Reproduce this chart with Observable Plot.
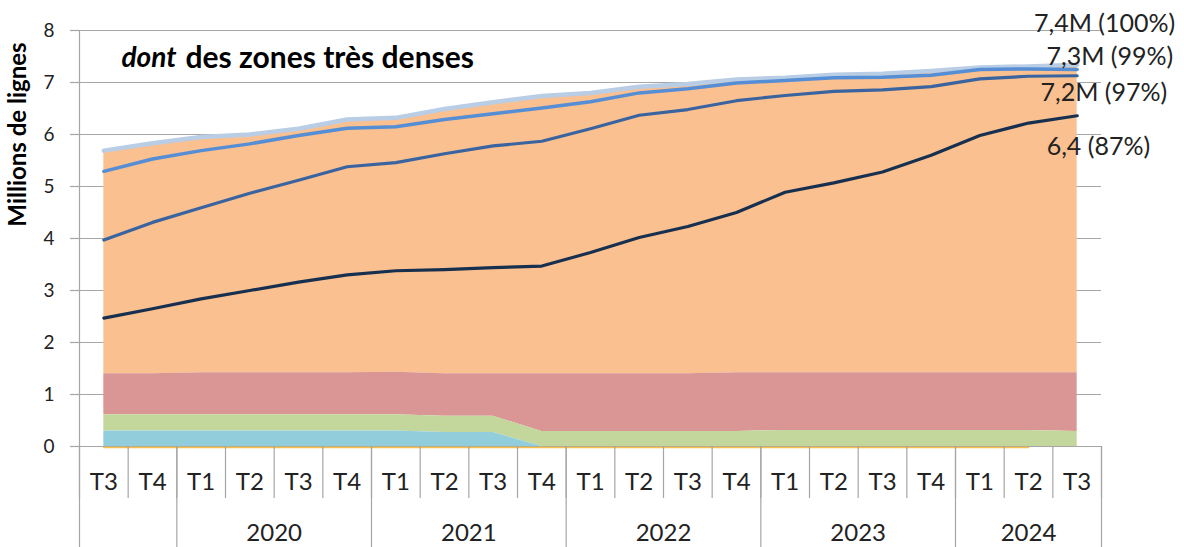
<!DOCTYPE html>
<html><head><meta charset="utf-8">
<script src="https://cdn.jsdelivr.net/npm/d3@7"></script>
<script src="https://cdn.jsdelivr.net/npm/@observablehq/plot@0.6"></script>
<style>html,body{margin:0;padding:0;background:#fff} svg{display:block}</style>
</head><body><div id="chart"></div>
<script>
// Data (millions de lignes)
const quarters = ["T3","T4","T1","T2","T3","T4","T1","T2","T3","T4","T1","T2","T3","T4","T1","T2","T3","T4","T1","T2","T3"];
const years    = [2019,2019,2020,2020,2020,2020,2021,2021,2021,2021,2022,2022,2022,2022,2023,2023,2023,2023,2024,2024,2024];
const yearList   = [2019, 2020, 2021, 2022, 2023, 2024];
const yearLabels = ["", "2020", "2021", "2022", "2023", "2024"];

// tiny series along the axis
const yellow   = [0.01,0.01,0.01,0.01,0.01,0.01,0.01,0.01,0.01,0.01,0.01,0.01,0.01,0.01,0.01,0.01,0.01,0.01,0.01,0.01,null];
// cumulative tops of the stacked areas
const blueTop  = [0.30,0.30,0.30,0.30,0.30,0.30,0.30,0.27,0.27,0.00,0.00,0.00,0.00,0.00,0.00,0.00,0.00,0.00,0.00,0.00,0.00];
const greenTop = [0.61,0.61,0.61,0.61,0.61,0.61,0.61,0.58,0.58,0.29,0.29,0.29,0.29,0.29,0.31,0.31,0.31,0.31,0.31,0.31,0.29];
const redTop   = [1.40,1.40,1.42,1.42,1.42,1.42,1.43,1.40,1.40,1.40,1.40,1.40,1.40,1.42,1.42,1.42,1.42,1.42,1.42,1.42,1.42];
const total    = [5.69,5.83,5.95,6.00,6.11,6.29,6.32,6.49,6.62,6.74,6.80,6.92,6.97,7.06,7.09,7.15,7.17,7.22,7.29,7.31,7.34];
// lines
const line99   = [5.29,5.53,5.69,5.82,5.98,6.12,6.15,6.29,6.40,6.51,6.63,6.80,6.88,6.99,7.04,7.09,7.10,7.14,7.25,7.26,7.25];
const line97   = [3.97,4.31,4.59,4.87,5.12,5.38,5.46,5.63,5.78,5.87,6.11,6.37,6.48,6.65,6.75,6.83,6.86,6.92,7.07,7.12,7.13];
const line87   = [2.47,2.65,2.84,3.00,3.16,3.30,3.38,3.40,3.44,3.47,3.73,4.02,4.23,4.50,4.89,5.07,5.28,5.60,5.98,6.22,6.36];

const endLabels = ["7,4M (100%)", "7,3M (99%)", "7,2M (97%)", "6,4 (87%)"];
const yTicks = [0,1,2,3,4,5,6,7,8];
const title1 = "dont";
const title2 = "des zones très denses";
const yTitle = "Millions de lignes";

const rows = quarters.map((q, i) => ({
  i, q, year: years[i],
  yellow: yellow[i], blue: blueTop[i], green: greenTop[i], red: redTop[i], total: total[i],
  l99: line99[i], l97: line97[i], l87: line87[i]
}));
const last = [rows[rows.length - 1]];

const n = quarters.length;
const quarterBounds = d3.range(n + 1).map(k => k - 0.5);
const yearBounds = [-0.5];
for (let i = 1; i < n; i++) if (years[i] !== years[i - 1]) yearBounds.push(i - 0.5);
yearBounds.push(n - 0.5);
const yearCenters = yearList.map(y => {
  const idx = d3.range(n).filter(i => years[i] === y);
  return (idx[0] + idx[idx.length - 1]) / 2;
});
const yearLabelByCenter = new Map(yearCenters.map((c, k) => [c, yearLabels[k]]));

const grid = "#a6a6a6";
const ink = "#222";

const chart = Plot.plot({
  width: 1184, height: 547,
  marginLeft: 79, marginRight: 83, marginTop: 30, marginBottom: 101,
  x: {type: "linear", domain: [-0.5, n - 0.5], axis: null},
  y: {domain: [0, 8], axis: null},
  style: {fontFamily: "Lato, 'Noto Sans', sans-serif", color: ink, background: "#fff", overflow: "visible"},
  marks: [
    Plot.gridY(yTicks.filter(t => t > 0), {stroke: grid, strokeOpacity: 1, strokeWidth: 1.2}),
    Plot.areaY(rows, {x: "i", y1: "red", y2: "total", fill: "#FAC090"}),
    Plot.areaY(rows, {x: "i", y1: "green", y2: "red", fill: "#D99694"}),
    Plot.areaY(rows, {x: "i", y1: "blue", y2: "green", fill: "#C3D69B"}),
    Plot.areaY(rows, {x: "i", y1: 0, y2: "blue", fill: "#92CDDC"}),
    Plot.gridY([0], {stroke: grid, strokeOpacity: 1, strokeWidth: 1.2}),
    Plot.lineY(rows, {x: "i", y: "yellow", stroke: "#F5C04A", strokeWidth: 1.6, dy: 1.5}),
    Plot.ruleX([-0.5], {stroke: grid, strokeWidth: 1.2}),
    Plot.lineY(rows, {x: "i", y: "total", stroke: "#B9CDE5", strokeWidth: 4.5}),
    Plot.lineY(rows, {x: "i", y: "l99", stroke: "#558ED5", strokeWidth: 3.5}),
    Plot.lineY(rows, {x: "i", y: "l97", stroke: "#3A64A0", strokeWidth: 3.2}),
    Plot.lineY(rows, {x: "i", y: "l87", stroke: "#18304F", strokeWidth: 3.2}),
    // y axis
    Plot.axisY(yTicks, {tickSize: 9, tickPadding: 16, fontSize: 19, tickFormat: d3.format("d"), stroke: grid, strokeWidth: 1.2, fill: ink, label: null}),
    // x axis: category separators, year separators, labels
    Plot.axisX(quarterBounds, {tickSize: 52, tickFormat: () => "", stroke: grid, strokeWidth: 1.2, label: null}),
    Plot.axisX(yearBounds, {tickSize: 101, tickFormat: () => "", stroke: grid, strokeWidth: 1.2, label: null}),
    Plot.axisX(d3.range(n), {tickSize: 0, tickPadding: 26, tickFormat: i => quarters[i], fontSize: 24, fill: ink, label: null}),
    Plot.axisX(yearCenters, {tickSize: 0, tickPadding: 77, tickFormat: c => yearLabelByCenter.get(c), fontSize: 24, fill: ink, label: null}),
    // end labels
    Plot.text(last, {x: "i", y: "total", text: () => endLabels[0], textAnchor: "end", lineAnchor: "middle", dx: 98, dy: -41, fontSize: 25, fill: ink}),
    Plot.text(last, {x: "i", y: "l99", text: () => endLabels[1], textAnchor: "end", lineAnchor: "middle", dx: 96, dy: -13, fontSize: 25, fill: ink}),
    Plot.text(last, {x: "i", y: "l97", text: () => endLabels[2], textAnchor: "end", lineAnchor: "middle", dx: 90, dy: 17, fontSize: 25, fill: ink}),
    Plot.text(last, {x: "i", y: "l87", text: () => endLabels[3], textAnchor: "end", lineAnchor: "middle", dx: 73, dy: 31, fontSize: 25, fill: ink}),
    // title inside plot
    Plot.text([title1], {frameAnchor: "top-left", text: d => d, dx: 42, dy: 28, textAnchor: "start", lineAnchor: "middle", fontSize: 28, fontWeight: "bold", fontStyle: "italic", fill: "#000"}),
    Plot.text([title2], {frameAnchor: "top-left", text: d => d, dx: 106, dy: 28, textAnchor: "start", lineAnchor: "middle", fontSize: 30, fontWeight: "bold", fill: "#000"}),
    // y axis title
    Plot.text([yTitle], {frameAnchor: "top-left", text: d => d, dx: -61, dy: 104, rotate: -90, textAnchor: "middle", lineAnchor: "middle", fontSize: 24, fontWeight: "bold", fill: "#000"})
  ]
});
document.getElementById("chart").appendChild(chart);
</script>
</body></html>
